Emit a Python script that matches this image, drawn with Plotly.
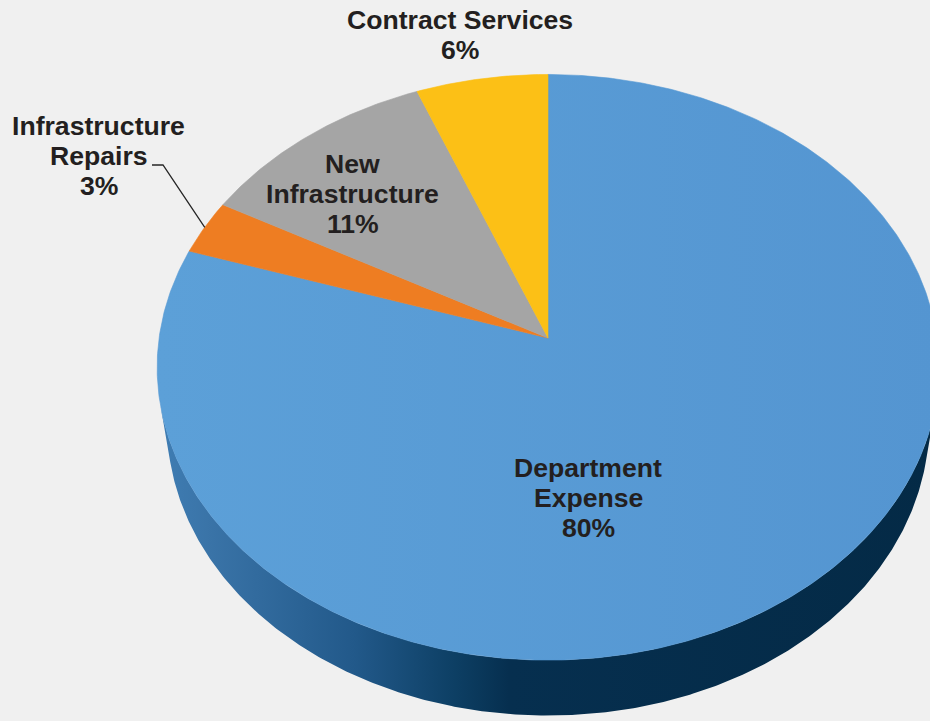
import math
import numpy as np
import plotly.graph_objects as go

# ---- data -------------------------------------------------------------
categories = ["Department Expense", "Infrastructure Repairs", "New Infrastructure", "Contract Services"]
shares = [80, 3, 11, 6]
label_lines = [["Department", "Expense"], ["Infrastructure", "Repairs"], ["New", "Infrastructure"], ["Contract Services"]]

# ---- styling ----------------------------------------------------------
top_colors = ["#5599d4", "#ee7d22", "#a5a5a5", "#fcc016"]
side_colors = ["#0b3b60", "#a0541a", "#6e6e6e", "#b88a0c"]
blue_top_gradient = [[0.0, "#5ca0d8"], [1.0, "#5495d1"]]
blue_side_gradient = [[0.0, "#3f7db3"], [0.06, "#3a74a8"], [0.25, "#22598a"],
                      [0.38, "#0d3f64"], [0.45, "#062f4f"], [1.0, "#042a46"]]
TEXT_COLOR = "#231f20"
FONT = "Liberation Sans, Arial, sans-serif"
FONT_SIZE = 26.6
LINE_STEP = 30

# label placement: (centre x, baseline of first line) in page pixels
label_anchor = {
    "Department Expense": (588, 477),
    "Infrastructure Repairs": (98.5, 135),
    "New Infrastructure": (352.5, 173),
    "Contract Services": (460, 29),
}

# ---- 3-D view of the pie ---------------------------------------------
W, H = 930, 721
CX, CY = 548, 338          # where the pie's centre lands on the page
TILT = math.radians(48.2)  # viewing elevation
DIST = 6.66                # camera distance, in pie radii
SCALE = 2590               # focal scale, pixels
DEPTH = 0.23               # pie thickness, in pie radii


def project(theta, r=1.0, height=0.0):
    """Perspective projection of a point on the pie (theta clockwise from 12 o'clock)."""
    theta = np.asarray(theta, dtype=float)
    X = r * np.sin(theta)
    Z = r * np.cos(theta)
    yp = height * math.cos(TILT) + Z * math.sin(TILT)
    zp = -height * math.sin(TILT) + Z * math.cos(TILT)
    sx = SCALE * X / (DIST + zp)
    sy = SCALE * yp / (DIST + zp)
    return CX + sx, CY - sy


total = float(sum(shares))
bounds = np.concatenate([[0.0], np.cumsum(shares) / total * 2 * math.pi])

# silhouette generators of the cylinder wall
t_sil = math.acos(-1.0 / (DIST * math.cos(TILT)))
vis_lo, vis_hi = t_sil, 2 * math.pi - t_sil

fig = go.Figure()

# side wall (front part only)
for i, name in enumerate(categories):
    a0, a1 = bounds[i], bounds[i + 1]
    lo, hi = max(a0, vis_lo), min(a1, vis_hi)
    if hi <= lo:
        continue
    t = np.linspace(lo, hi, 400)
    xt, yt = project(t)
    xb, yb = project(t[::-1], height=-DEPTH)
    xs = np.concatenate([xt, xb, xt[:1]])
    ys = np.concatenate([yt, yb, yt[:1]])
    kw = dict(fillcolor=side_colors[i])
    if i == 0:
        kw = dict(fillgradient=dict(type="horizontal", colorscale=blue_side_gradient))
    fig.add_trace(go.Scatter(x=xs, y=ys, mode="lines", fill="toself",
                             line=dict(width=0, color=side_colors[i]),
                             hoverinfo="skip", showlegend=False, **kw))

# top faces of the slices
for i, name in enumerate(categories):
    a0, a1 = bounds[i], bounds[i + 1]
    n = max(8, int((a1 - a0) / (2 * math.pi) * 720))
    t = np.linspace(a0, a1, n)
    xr, yr = project(t)
    xs = np.concatenate([[CX], xr, [CX]])
    ys = np.concatenate([[CY], yr, [CY]])
    kw = dict(fillcolor=top_colors[i])
    if i == 0:
        kw = dict(fillgradient=dict(type="horizontal", colorscale=blue_top_gradient))
    fig.add_trace(go.Scatter(x=xs, y=ys, mode="lines", fill="toself",
                             line=dict(width=0.6, color=top_colors[i]),
                             name=name, hoverinfo="name", showlegend=False, **kw))

# leader line for the thin orange slice
i_rep = categories.index("Infrastructure Repairs")
mid = 0.5 * (bounds[i_rep] + bounds[i_rep + 1])
ex, ey = project(mid)
fig.add_trace(go.Scatter(x=[152, 163, float(ex)], y=[165, 165, float(ey)], mode="lines",
                         line=dict(color="#262626", width=1.3),
                         hoverinfo="skip", showlegend=False))

# data labels, one annotation per line for tight leading
annotations = []
for i, name in enumerate(categories):
    pct = f"{shares[i] / total * 100:.0f}%"
    lines = label_lines[i] + [pct]
    x0, base0 = label_anchor[name]
    for k, txt in enumerate(lines):
        baseline = base0 + k * LINE_STEP
        annotations.append(dict(
            x=x0, y=baseline - 0.347 * FONT_SIZE, xref="x", yref="y",
            text=f"<b>{txt}</b>", showarrow=False,
            xanchor="center", yanchor="middle",
            font=dict(family=FONT, size=FONT_SIZE, color=TEXT_COLOR),
        ))

fig.update_layout(
    width=W, height=H,
    margin=dict(l=0, r=0, t=0, b=0),
    paper_bgcolor="#f0f0f0", plot_bgcolor="#f0f0f0",
    xaxis=dict(range=[0, W], visible=False, fixedrange=True),
    yaxis=dict(range=[H, 0], visible=False, fixedrange=True),
    annotations=annotations,
    showlegend=False,
)

fig.write_html("out.html")
